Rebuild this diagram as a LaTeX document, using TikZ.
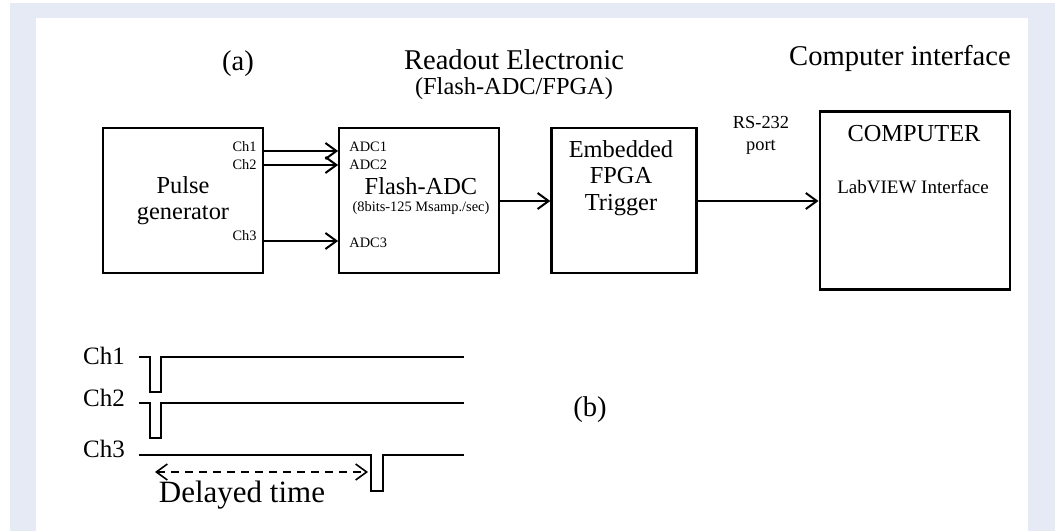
\documentclass[tikz,border=0pt]{standalone}
\usepackage{fontspec}
\setmainfont{Liberation Serif}
\usetikzlibrary{arrows.meta,positioning,calc}
\definecolor{bandblue}{HTML}{E6EAF5}
\tikzset{
  blk/.style={draw,rectangle,line width=1.1pt,inner sep=0pt,align=center},
  arr/.style={-{Straight Barb[length=5.5pt,width=8pt]},line width=1pt},
  darr/.style={{Straight Barb[length=5.5pt,width=8pt]}-{Straight Barb[length=5.5pt,width=8pt]},line width=0.8pt,dash pattern=on 4pt off 3pt},
  wave/.style={line width=1pt},
  ttl/.style={font=\fontsize{14.3}{16}\selectfont,inner sep=0pt},
  sub/.style={font=\fontsize{12.2}{14}\selectfont,inner sep=0pt},
  big/.style={font=\fontsize{12.2}{13.3}\selectfont,align=center,inner sep=0pt},
  mid/.style={font=\fontsize{9.2}{11}\selectfont,align=center,inner sep=0pt},
  sml/.style={font=\fontsize{7.2}{8}\selectfont,inner sep=0pt},
  wlbl/.style={font=\fontsize{12.5}{14}\selectfont,inner sep=0pt}
}
\begin{document}
\begin{tikzpicture}[x=0.5pt,y=-0.5pt]
  \useasboundingbox (0,0) rectangle (1058,531);
  % frame
  \fill[bandblue] (10,3) rectangle (1055,531);
  \fill[white] (36,18) rectangle (1028,531);

  % titles
  \node[ttl] (ta) at (238,64) {(a)};
  \node[ttl] (tro) at (514,60) {Readout Electronic};
  \node[sub] (tfa) at (514,89) {(Flash-ADC/FPGA)};
  \node[ttl] (tci) at (900,58) {Computer interface};

  % blocks
  \node[blk,big,minimum width=80pt,minimum height=72.5pt] (pg) at (183,200.5) {Pulse\\generator};
  \node[blk,minimum width=80pt,minimum height=72.5pt,right=37pt of pg] (adc) {};
  \node[blk,minimum width=72.5pt,minimum height=72.5pt,right=25pt of adc] (fpga) {};
  \node[blk,minimum width=95pt,minimum height=89pt,right=60.5pt of fpga] (comp) {};

  % block texts
  \node[big] (adct) at (421,186) {Flash-ADC};
  \node[sml] (adcs) at (421,208) {(8bits-125 Msamp./sec)};
  \node[sml,anchor=west] (a1) at (349,147) {ADC1};
  \node[sml,anchor=west] (a2) at (349,165) {ADC2};
  \node[sml,anchor=west] (a3) at (349,243) {ADC3};
  \node[sml,anchor=east] (c1) at (257,147) {Ch1};
  \node[sml,anchor=east] (c2) at (257,165) {Ch2};
  \node[sml,anchor=east] (c3) at (257,236) {Ch3};
  \node[big] (fpt) at (621,178) {Embedded\\FPGA\\Trigger};
  \node[mid] (rs) at (761,135) {RS-232\\port};
  \node[big] (ct) at (914,134) {COMPUTER};
  \node[font=\fontsize{9.5}{11}\selectfont,inner sep=0pt] (lv) at (913,187) {LabVIEW Interface};

  % connections
  \coordinate (l1) at (0,151);
  \coordinate (l2) at (0,165);
  \coordinate (l3) at (0,241);
  \coordinate (l4) at (0,201);
  \draw[arr] (pg.east |- l1) -- (adc.west |- l1);
  \draw[arr] (pg.east |- l2) -- (adc.west |- l2);
  \draw[arr] (pg.east |- l3) -- (adc.west |- l3);
  \draw[arr] (adc.east |- l4) -- (fpga.west |- l4);
  \draw[arr] (fpga.east |- l4) -- (comp.west |- l4);

  % (b) timing
  \node[wlbl] (w1) at (104,356) {Ch1};
  \node[wlbl] (w2) at (104,398) {Ch2};
  \node[wlbl] (w3) at (104,449) {Ch3};
  \draw[wave] (139,357) -| (150,392) -| (161,357) -- (464,357);
  \draw[wave] (139,403) -| (150,438) -| (161,403) -- (464,403);
  \draw[wave] (139,455) -| (371,491) -| (383,455) -- (464,455);
  \coordinate (dl) at (155,472);
  \coordinate (dr) at (368,472);
  \draw[darr] (dl) -- (dr);
  \node[font=\fontsize{15.5}{17}\selectfont,inner sep=0pt] (dt) at (242,495) {Delayed time};
  \node[ttl] (tb) at (590,410) {(b)};
\end{tikzpicture}
\end{document}
